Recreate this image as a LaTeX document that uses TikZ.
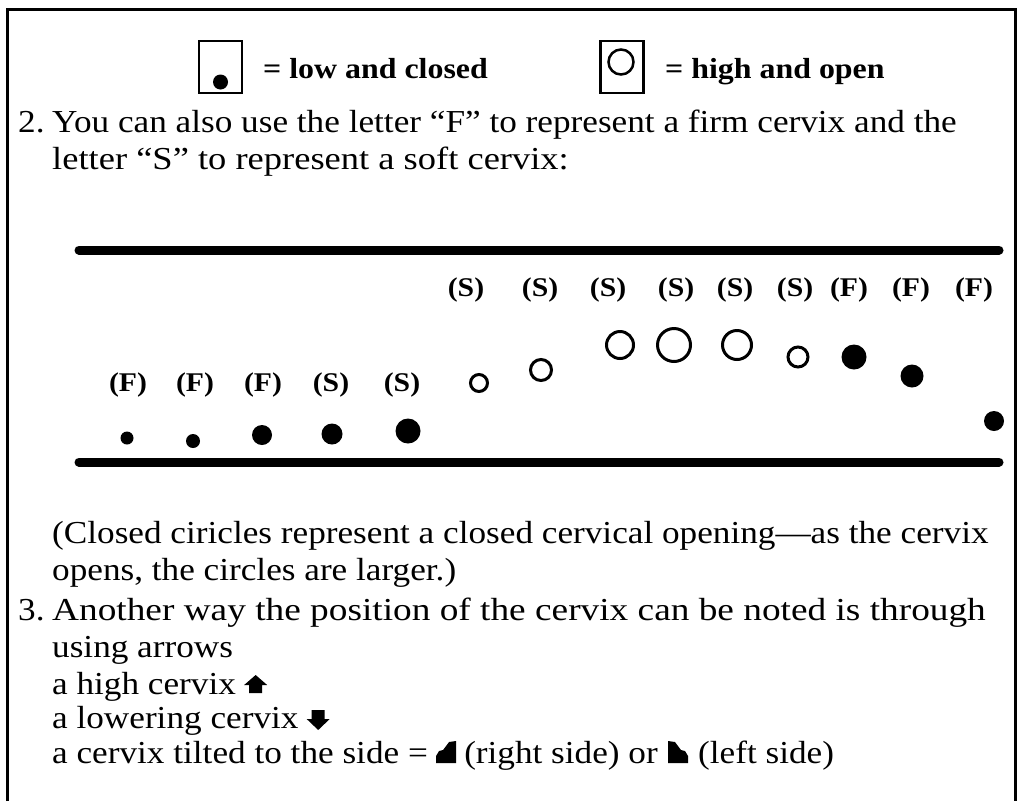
\documentclass[tikz,border=0pt]{standalone}
\usepackage{fontspec}
\setmainfont{Liberation Serif}[FakeStretch=1.10]
\usetikzlibrary{positioning}

\tikzset{
  bodytext/.style={anchor=base west, inner sep=0pt, font=\fontsize{32}{38}\selectfont},
  widetext/.style={bodytext, font=\fontsize{32}{38}\selectfont\addfontfeature{FakeStretch=#1}},
  tagtext/.style={inner sep=0pt, font=\fontsize{27}{31}\selectfont\bfseries},
  keytext/.style={anchor=base west, inner sep=0pt, font=\fontsize{29}{34}\selectfont\bfseries},
  keybox/.style={draw, line width=2.5pt, minimum width=43pt, minimum height=52pt, inner sep=0pt},
  bar/.style={line width=9pt, line cap=round},
  opendot/.style={draw, line width=3pt},
}

\begin{document}
\begin{tikzpicture}[x=1pt,y=-1pt]
    \useasboundingbox (0,0) rectangle (1024,801);

    % Frame, open at the bottom
    \draw[line width=3pt] (7,801) -- (7,9) -- (1015,9) -- (1015,801);

    % Key
    \node[keybox] (lowbox) at (220.5,67) {};
    \fill (220.5,82) circle (7.5);
    \node[keytext] (lowkey) at (263,78) {= low and closed};
    \node[keybox] (highbox) at (622,67) {};
    \draw[line width=2.5pt] (621,62) circle (12.5);
    \node[keytext] (highkey) at (665,78) {= high and open};

    % Item 2
    \node[bodytext] (numtwo) at (18,132) {2.};
    \node[bodytext] (twoa) at (52,132) {You can also use the letter “F” to represent a firm cervix and the};
    \node[widetext=1.14] (twob) at (52,169) {letter “S” to represent a soft cervix:};

    % Chart
    \draw[bar] (79,250) -- (999,250);
    \draw[bar] (79,462) -- (999,462);
    \foreach \x/\t [count=\i] in {128/F,195/F,263/F,331/S,402/S}
        \node[tagtext] (lowtag\i) at (\x,385) {(\t)};
    \foreach \x/\t [count=\i] in {466/S,540/S,608/S,676/S,735/S,795/S,849/F,911/F,974/F}
        \node[tagtext] (hightag\i) at (\x,290) {(\t)};
    \foreach \x/\y/\r in {127/438/6.5,193/441/7,262/435/10,332/434/10.5,408/431/12.5,
                          854/357/12.5,912/376/11.5,994/421/10}
        \fill (\x,\y) circle (\r);
    \foreach \x/\y/\r in {479/383/8.5,541/370/10.5,620/345/13.5,674/345/16.5,737/345/14.5,798/357/10}
        \draw[opendot] (\x,\y) circle (\r);

    % Note and item 3
    \node[bodytext] (notea) at (52,543) {(Closed ciricles represent a closed cervical opening—as the cervix};
    \node[bodytext] (noteb) at (52,580) {opens, the circles are larger.)};
    \node[bodytext] (numthree) at (18,620) {3.};
    \node[widetext=1.166] (threea) at (52,620) {Another way the position of the cervix can be noted is through};
    \node[bodytext] (threeb) at (52,657) {using arrows};
    \node[bodytext] (highline) at (52,694) {a high cervix};
    \node[bodytext] (lowline) at (52,728) {a lowering cervix};
    \node[bodytext] (tiltline) at (52,763) {a cervix tilted to the side =};

    % Arrow marks
    \coordinate[right=8pt of highline.base east] (upmark);
    \fill[shift={(upmark)}] (5,-1) -- (5,-9) -- (0,-9) -- (11.5,-19) -- (23,-9) -- (18,-9) -- (18,-1) -- cycle;
    \coordinate[right=8pt of lowline.base east] (downmark);
    \fill[shift={(downmark)}] (5,-18) -- (18,-18) -- (18,-9) -- (23,-9) -- (11.5,2) -- (0,-9) -- (5,-9) -- cycle;
    \coordinate[right=8pt of tiltline.base east] (rightmark);
    \fill[shift={(rightmark)}] (0,0) -- (20,0) -- (20,-22) -- (13,-21) -- (7,-13) -- (3,-12) -- (0,-7) -- cycle;
    \node[bodytext, right=36pt of tiltline.base east, anchor=base west] (rightword) {(right side) or};
    \coordinate[right=10pt of rightword.base east] (leftmark);
    \fill[shift={(leftmark)}] (20,0) -- (0,0) -- (0,-22) -- (7,-21) -- (13,-13) -- (17,-12) -- (20,-7) -- cycle;
    \node[bodytext, right=40pt of rightword.base east, anchor=base west] (leftword) {(left side)};
\end{tikzpicture}
\end{document}
